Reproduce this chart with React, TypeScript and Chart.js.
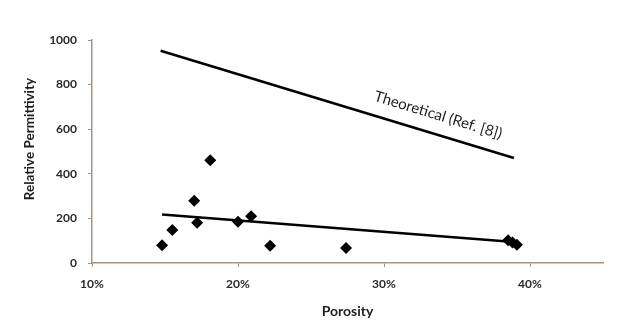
import { useEffect, useRef } from "react";
import { Chart, registerables } from "chart.js";

Chart.register(...registerables);

// Measured samples
const porosity = [0.148, 0.155, 0.17, 0.172, 0.181, 0.2, 0.209, 0.222, 0.274, 0.385, 0.388, 0.391];
const permittivity = [80, 148, 279, 180, 461, 185, 210, 77, 67, 102, 92, 82];

// Linear fit through the measured samples
const fitX = [0.148, 0.387];
const fitY = [218, 95];

// Theoretical curve
const theoryX = [0.147, 0.389];
const theoryY = [952, 471];

const xTicks = [0.1, 0.2, 0.3, 0.4];
const yTicks = [0, 200, 400, 600, 800, 1000];

const theoryLabel = "Theoretical (Ref. [8])";
const xTitle = "Porosity";
const yTitle = "Relative Permittivity";

const FONT = "Lato, 'Open Sans', sans-serif";
const AXIS_COLOR = "#a39488";
const TEXT_COLOR = "#2a2a2a";

const annotate = {
  id: "annotate",
  afterDatasetsDraw(chart: any) {
    const { ctx, scales } = chart;
    const xs = scales.x;
    const ys = scales.y;
    const x0 = xs.getPixelForValue(theoryX[0]);
    const y0 = ys.getPixelForValue(theoryY[0]);
    const x1 = xs.getPixelForValue(theoryX[1]);
    const y1 = ys.getPixelForValue(theoryY[1]);
    const angle = Math.atan2(y1 - y0, x1 - x0);
    const t = 0.77;
    const cx = x0 + (x1 - x0) * t;
    const cy = y0 + (y1 - y0) * t;
    const off = 19;
    const nx = Math.sin(angle);
    const ny = -Math.cos(angle);

    ctx.save();
    ctx.translate(cx + nx * off, cy + ny * off);
    ctx.rotate(angle);
    ctx.font = `15px ${FONT}`;
    ctx.fillStyle = "#1e1e1e";
    ctx.textAlign = "center";
    ctx.textBaseline = "middle";
    ctx.fillText(theoryLabel, 0, 0);
    ctx.restore();

    // vertical axis title
    ctx.save();
    ctx.translate(30, 139);
    ctx.rotate(-Math.PI / 2);
    ctx.font = `bold 13.5px ${FONT}`;
    ctx.fillStyle = "#1e1e1e";
    ctx.textAlign = "center";
    ctx.textBaseline = "middle";
    ctx.fillText(yTitle, 0, 0);
    ctx.restore();
  },
};

export default function App() {
  const canvasRef = useRef<HTMLCanvasElement | null>(null);

  useEffect(() => {
    if (!canvasRef.current) return;
    const chart = new Chart(canvasRef.current, {
      type: "scatter",
      data: {
        datasets: [
          {
            data: porosity.map((p, i) => ({ x: p, y: permittivity[i] })),
            pointStyle: "rectRot",
            pointRadius: 6,
            backgroundColor: "#000000",
            borderColor: "#000000",
            borderWidth: 0,
          },
          {
            data: fitX.map((p, i) => ({ x: p, y: fitY[i] })),
            showLine: true,
            pointRadius: 0,
            borderColor: "#000000",
            borderWidth: 2.5,
          },
          {
            data: theoryX.map((p, i) => ({ x: p, y: theoryY[i] })),
            showLine: true,
            pointRadius: 0,
            borderColor: "#000000",
            borderWidth: 2.5,
          },
        ],
      },
      options: {
        animation: false,
        responsive: true,
        maintainAspectRatio: false,
        layout: { padding: { left: 0, right: 15, top: 40, bottom: 0 } },
        plugins: {
          legend: { display: false },
          tooltip: { enabled: false },
        },
        scales: {
          x: {
            type: "linear",
            min: 0.1,
            max: 0.45,
            afterBuildTicks: (s: any) => {
              s.ticks = xTicks.map((v) => ({ value: v }));
            },
            afterFit: (s: any) => {
              s.height = 69;
            },
            border: { color: AXIS_COLOR, width: 1.5 },
            grid: {
              drawOnChartArea: false,
              drawTicks: true,
              tickLength: 4,
              color: AXIS_COLOR,
            },
            ticks: {
              color: TEXT_COLOR,
              font: { family: FONT, size: 12, weight: "bold" },
              padding: 10,
              maxRotation: 0,
              callback: (v: any) => `${Math.round(Number(v) * 100)}%`,
            },
            title: {
              display: true,
              text: xTitle,
              color: "#1e1e1e",
              font: { family: FONT, size: 14, weight: "bold" },
              padding: { top: 0, bottom: 12 },
            },
          },
          y: {
            type: "linear",
            min: 0,
            max: 1000,
            afterBuildTicks: (s: any) => {
              s.ticks = yTicks.map((v) => ({ value: v }));
            },
            afterFit: (s: any) => {
              s.width = 92;
            },
            border: { color: AXIS_COLOR, width: 1.5 },
            grid: {
              drawOnChartArea: false,
              drawTicks: true,
              tickLength: 4,
              color: AXIS_COLOR,
            },
            ticks: {
              color: TEXT_COLOR,
              font: { family: FONT, size: 12, weight: "bold" },
              padding: 11,
              callback: (v: any) => String(v),
            },
          },
        },
      },
      plugins: [annotate],
    });
    return () => chart.destroy();
  }, []);

  return (
    <div
      style={{
        position: "fixed",
        left: 0,
        top: 0,
        width: 618,
        height: 332,
        background: "#ffffff",
      }}
    >
      <canvas ref={canvasRef} />
    </div>
  );
}
